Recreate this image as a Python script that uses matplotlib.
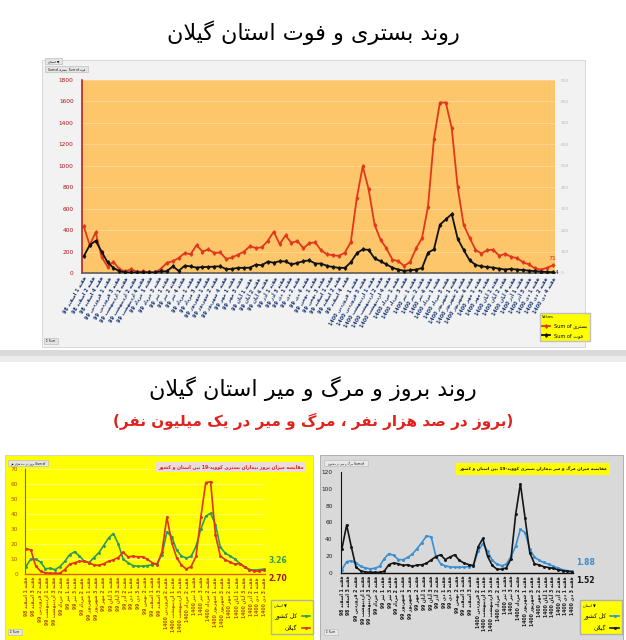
import re
import numpy as np
import matplotlib
matplotlib.use('Agg')
import matplotlib.pyplot as plt
from matplotlib.patches import Rectangle

plt.rcParams['font.family'] = ['DejaVu Sans']

W, H = 626, 640

# ---------------- data ----------------
months = [('اسفند', '98'), ('فروردین', '99'), ('اردیبهشت', '99'), ('خرداد', '99'),
          ('تیر', '99'), ('مرداد', '99'), ('شهریور', '99'), ('مهر', '99'), ('آبان', '99'),
          ('آذر', '99'), ('دی', '99'), ('بهمن', '99'), ('اسفند', '99'), ('فروردین', '1400'),
          ('اردیبهشت', '1400'), ('خرداد', '1400'), ('تیر', '1400'), ('مرداد', '1400'),
          ('شهریور', '1400'), ('مهر', '1400'), ('آبان', '1400'), ('آذر', '1400'), ('دی', '1400')]
top_labels = [f'هفته {w} {m} {y}' for k, (m, y) in enumerate(months)
              for w in ((1, 2, 4) if k % 2 == 0 else (1, 3))]
low_labels = [f'هفته {w} {m} {y}' for k, (m, y) in enumerate(months)
              for w in ((1, 3) if k % 2 == 0 else (2,))]

# weekly hospitalised (left axis) and deaths (right axis), Gilan
hosp = [434, 260, 380, 150, 60, 105, 35, 15, 37, 10,
        15, 8, 5, 40, 95, 110, 140, 186, 175, 260,
        200, 220, 186, 192, 130, 145, 171, 200, 250, 233,
        240, 300, 385, 270, 350, 280, 300, 230, 279, 285,
        210, 175, 165, 160, 190, 290, 700, 995, 780, 450,
        310, 230, 125, 110, 65, 105, 230, 326, 620, 1250,
        1590, 1590, 1350, 800, 450, 330, 217, 180, 215, 217,
        160, 180, 150, 140, 100, 80, 45, 31, 47, 71]
deaths = [78, 130, 150, 100, 50, 24, 8, 3, 3, 2.5,
          2.5, 2.5, 2.5, 8, 8, 31, 10, 34, 31, 25,
          28, 28, 30, 31, 18, 19, 24, 24, 25, 39,
          36, 53, 48, 55, 54, 40, 47, 55, 59, 44,
          44, 33, 28, 24, 24, 50, 92, 110, 108, 68,
          55, 40, 25, 16, 10, 13, 16, 23, 95, 110,
          225, 250, 275, 160, 108, 60, 38, 31, 28, 25,
          20, 16, 19, 16, 14, 11, 9, 6, 5, 4]

# incidence per 100k
inc_country = [5, 10, 9.8, 8, 3.5, 3.8, 2.9, 5, 8.4, 12.9,
               14.8, 12, 8.5, 7.6, 11, 14.2, 19, 24, 27, 20,
               10, 7.5, 5.6, 5.2, 5.3, 5.6, 6.2, 7, 13, 28,
               25, 16, 12, 10.7, 11.8, 18.4, 30, 38.5, 40.5, 33,
               18, 14, 12, 10, 7, 5, 3, 2.5, 2.9, 3.26]
inc_gilan = [17, 16, 5.5, 1.8, 0.8, 0.5, 0.5, 0.5, 3, 6.5,
             7.5, 8.5, 8.5, 7.5, 6, 5.8, 6.8, 8.5, 9.5, 11,
             14.5, 11.5, 11.8, 11.5, 11.5, 9.8, 7.5, 6.3, 15, 38,
             21, 11, 6, 3.3, 5, 11.8, 38, 61, 61.5, 26,
             12, 9.6, 8, 6.5, 7, 4.5, 2.8, 2, 2, 2.70]

# mortality per million
mort_country = [4, 13.5, 14.5, 12, 8, 6, 5, 5.5, 8, 17,
                23, 21, 16, 15.7, 18.5, 22.5, 29, 36, 44, 43,
                20, 11, 8.5, 7.3, 7, 7, 7, 7.5, 9.5, 26,
                35, 26, 15, 10.5, 8.7, 10.5, 19.7, 32, 52, 48,
                28, 19, 15, 12.5, 10.5, 8, 5.9, 3.9, 2.8, 1.88]
mort_gilan = [29, 57, 31, 7, 2.5, 1.2, 0.8, 0.8, 0.8, 2,
              10, 12, 11, 9, 9.8, 8, 9.5, 9.8, 11.5, 15.5,
              19.5, 21.6, 16, 19, 21.6, 15, 11.8, 10, 8.7, 31,
              41, 20, 9, 4.5, 4.5, 6, 17, 70, 106, 65,
              24, 11, 9.5, 7.5, 6.5, 5.5, 3.9, 2.8, 2, 1.52]

# ---------------- persian text: matplotlib has no shaping, so do it by hand ----------------
DUAL = {'ب': 0xFE8F, 'پ': 0xFB56, 'ت': 0xFE95, 'ث': 0xFE99, 'ج': 0xFE9D, 'چ': 0xFB7A,
        'ح': 0xFEA1, 'خ': 0xFEA5, 'س': 0xFEB1, 'ش': 0xFEB5, 'ص': 0xFEB9, 'ض': 0xFEBD,
        'ط': 0xFEC1, 'ظ': 0xFEC5, 'ع': 0xFEC9, 'غ': 0xFECD, 'ف': 0xFED1, 'ق': 0xFED5,
        'ک': 0xFB8E, 'گ': 0xFB92, 'ل': 0xFEDD, 'م': 0xFEE1, 'ن': 0xFEE5, 'ه': 0xFEE9,
        'ی': 0xFBFC, 'ي': 0xFEF1}
RIGHT = {'ا': 0xFE8D, 'آ': 0xFE81, 'د': 0xFEA9, 'ذ': 0xFEAB, 'ر': 0xFEAD, 'ز': 0xFEAF,
         'ژ': 0xFB8A, 'و': 0xFEED}
MIRROR = {'(': ')', ')': '('}


def shape(s):
    out = []
    i = 0
    while i < len(s):
        c = s[i]
        prev_links = i > 0 and s[i - 1] in DUAL
        nxt = s[i + 1] if i + 1 < len(s) else ''
        if c == 'ل' and nxt in ('ا', 'آ'):
            lig = 0xFEFB if nxt == 'ا' else 0xFEF5
            out.append(chr(lig + int(prev_links)))
            i += 2
            continue
        if c in DUAL:
            next_links = nxt in DUAL or nxt in RIGHT
            form = 3 if prev_links and next_links else 1 if prev_links else 2 if next_links else 0
            out.append(chr(DUAL[c] + form))
        elif c in RIGHT:
            out.append(chr(RIGHT[c] + int(prev_links)))
        else:
            out.append(c)
        i += 1
    return ''.join(out)


def fa(s):
    runs = re.findall(r'[A-Za-z0-9.]+|[^A-Za-z0-9.]+', shape(s))
    out = []
    for r in reversed(runs):
        if re.match(r'[A-Za-z0-9.]', r):
            out.append(r)
        else:
            out.append(''.join(MIRROR.get(c, c) for c in reversed(r)))
    return ''.join(out)


# ---------------- layout helpers (pixel boxes) ----------------
def rect(x0, y0, x1, y1):
    return [x0 / W, 1 - y1 / H, (x1 - x0) / W, (y1 - y0) / H]


def box(x0, y0, x1, y1, **kw):
    kw.setdefault('zorder', -1)
    fig.add_artist(Rectangle((x0 / W, 1 - y1 / H), (x1 - x0) / W, (y1 - y0) / H,
                             transform=fig.transFigure, **kw))


def txt(x, y, s, **kw):
    fig.text(x / W, 1 - y / H, s, **kw)


fig = plt.figure(figsize=(W / 100, H / 100), dpi=100)

# ================= top: hospitalised & deaths =================
txt(313, 33, fa('روند بستری و فوت استان گیلان'), ha='center', va='center', fontsize=16)
box(42, 60, 585, 347, facecolor='#f2f2f2', edgecolor='#d4d4d4', lw=0.6)
box(45, 58, 62, 64, facecolor='#e4e4e4', edgecolor='#b5b5b5', lw=0.4)
txt(53.5, 61, fa('استان') + ' ▼', ha='center', va='center', fontsize=2.3)
box(45, 66, 88, 72, facecolor='#e4e4e4', edgecolor='#b5b5b5', lw=0.4)
txt(66.5, 69, 'Sum of ' + fa('بستری') + '  Sum of ' + fa('فوت'), ha='center', va='center', fontsize=2.1)
box(44, 338, 58, 344, facecolor='#e4e4e4', edgecolor='#b5b5b5', lw=0.4)
txt(51, 341, 'Σ Sum', ha='center', va='center', fontsize=2.1)

ax = fig.add_axes(rect(82, 80, 555, 273))
ax.set_facecolor('#fec66b')
xt = np.arange(len(hosp))
l1, = ax.plot(xt, hosp, color='#e2371b', lw=1.3, marker='d', ms=1.8)
ax.set_ylim(0, 1800)
ax.set_yticks(range(0, 1801, 200))
ax.set_xlim(-0.3, len(hosp) - 0.6)
ax.grid(axis='y', color='#ffd795', lw=0.6)
ax.set_axisbelow(True)
ax.tick_params(axis='y', labelsize=4.2, labelcolor='#b0121b', length=0, pad=6)
ax.tick_params(axis='x', length=0, pad=2)
ax.set_xticks(np.linspace(0, len(hosp) - 1, len(top_labels)))
ax.set_xticklabels([fa(s) for s in top_labels], rotation=60, ha='right', rotation_mode='anchor',
                   fontsize=3.5, color='#1f3b78', fontweight='bold')
for s in ('top', 'right'):
    ax.spines[s].set_visible(False)
ax.spines['left'].set_color('#b0121b')
ax.spines['left'].set_linewidth(1.1)
ax.spines['bottom'].set_color('#5a5a5a')
ax.spines['bottom'].set_linewidth(1.2)
ax.text(xt[-1], hosp[-1] + 40, str(hosp[-1]), color='#d0301b', fontsize=4.5, ha='center', va='bottom')

ax2 = ax.twinx()
l2, = ax2.plot(xt, deaths, color='#111111', lw=1.3, marker='d', ms=1.8)
ax2.set_ylim(0, 900)
ax2.set_yticks(range(0, 901, 100))
ax2.tick_params(axis='y', labelsize=3.2, labelcolor='#b8b8b8', length=0, pad=4)
for s in ax2.spines.values():
    s.set_visible(False)
ax2.text(xt[-1] + 0.4, deaths[-1], str(deaths[-1]), color='#222222', fontsize=4.2, ha='left', va='center')

leg = fig.legend([l1, l2], ['Sum of ' + fa('بستری'), 'Sum of ' + fa('فوت')], loc='upper left',
                 bbox_to_anchor=(537 / W, 1 - 310 / H), fontsize=3.6, facecolor='#ffff00',
                 edgecolor='#c0c0c0', framealpha=1, fancybox=False, title='Values', title_fontsize=2.6,
                 handlelength=1.6, borderpad=0.5, labelspacing=0.9)
leg._legend_box.align = 'left'

# separator band
box(0, 350, 626, 356, facecolor='#d9d9d9', edgecolor='none')
box(0, 356, 626, 362, facecolor='#ececec', edgecolor='none')

# ================= bottom titles =================
txt(313, 389, fa('روند بروز و مرگ و میر استان گیلان'), ha='center', va='center', fontsize=16)
txt(313, 421, fa('(بروز در صد هزار نفر ، مرگ و میر در یک میلیون نفر)'), ha='center', va='center',
    fontsize=11, color='#e3201b', fontweight='bold')

# ================= bottom left: incidence =================
box(5, 455, 313, 640, facecolor='#ffff00', edgecolor='#cfcfcf', lw=0.6)
box(8, 460, 48, 466, facecolor='#e4e4e4', edgecolor='#b5b5b5', lw=0.4)
txt(28, 463, fa('بروز در صد هزار نفر') + ' Sum of', ha='center', va='center', fontsize=2.1)
box(8, 629, 22, 635, facecolor='#e4e4e4', edgecolor='#b5b5b5', lw=0.4)
txt(15, 632, 'Σ Sum', ha='center', va='center', fontsize=2.1)

axl = fig.add_axes(rect(25, 469, 265, 574))
axl.set_facecolor('none')
xb = np.arange(len(inc_gilan))
g1, = axl.plot(xb, inc_country, color='#2f9a5e', lw=1.2, marker='o', ms=1.1)
g2, = axl.plot(xb, inc_gilan, color='#e0321c', lw=1.2, marker='o', ms=1.1)
axl.set_ylim(0, 70)
axl.set_yticks(range(0, 71, 10))
axl.set_xlim(-0.2, len(xb) - 0.8)
axl.grid(axis='y', color='#ffff9a', lw=0.5)
axl.set_axisbelow(True)
axl.tick_params(axis='y', labelsize=4.2, labelcolor='#b5520c', length=0, pad=5)
axl.tick_params(axis='x', length=0, pad=2)
axl.set_xticks(np.linspace(0, len(xb) - 1, len(low_labels)))
axl.set_xticklabels([fa(s) for s in low_labels], rotation=90, ha='center', va='top',
                    fontsize=3.3, color='#b5520c', fontweight='bold')
for s in ('top', 'right'):
    axl.spines[s].set_visible(False)
axl.spines['left'].set_color('#b05a00')
axl.spines['bottom'].set_color('#e06010')
axl.spines['bottom'].set_linewidth(1.0)
axl.annotate(f'{inc_country[-1]:.2f}', (xb[-1], inc_country[-1]), xytext=(3, 3), textcoords='offset points',
             color='#2f9a5e', fontsize=5.5, fontweight='bold', va='bottom')
axl.annotate(f'{inc_gilan[-1]:.2f}', (xb[-1], inc_gilan[-1]), xytext=(3, -3), textcoords='offset points',
             color='#a0141e', fontsize=5.5, fontweight='bold', va='top')
txt(231, 467, fa('مقایسه میزان بروز بیماران بستری کووید-19 بین استان و کشور'), ha='center', va='center',
    fontsize=3.3, color='#e0201b', fontweight='bold',
    bbox=dict(boxstyle='square,pad=0.5', facecolor='#eadcdc', edgecolor='none'))
legl = fig.legend([g1, g2], [fa('کل کشور'), fa('گیلان')], loc='upper left',
                  bbox_to_anchor=(268 / W, 1 - 597 / H), fontsize=4.2, facecolor='#ffff00',
                  edgecolor='#b0b0b0', framealpha=1, fancybox=False, title=fa('استان') + ' ▼',
                  title_fontsize=2.6, handlelength=1.4, borderpad=0.5, labelspacing=1.0,
                  markerfirst=False)
legl._legend_box.align = 'left'

# ================= bottom right: mortality =================
box(320, 455, 623, 640, facecolor='#d9d9d9', edgecolor='#a6a6a6', lw=0.6)
box(324, 460, 368, 466, facecolor='#e8e8e8', edgecolor='#b5b5b5', lw=0.4)
txt(346, 463, fa('مرگ و میر در میلیون') + ' Sum of', ha='center', va='center', fontsize=2.1)
box(324, 629, 338, 635, facecolor='#e8e8e8', edgecolor='#b5b5b5', lw=0.4)
txt(331, 632, 'Σ Sum', ha='center', va='center', fontsize=2.1)

axr = fig.add_axes(rect(341, 472, 573, 573))
axr.set_facecolor('none')
xr = np.arange(len(mort_gilan))
b1, = axr.plot(xr, mort_country, color='#3a8fd2', lw=1.2, marker='o', ms=1.1)
b2, = axr.plot(xr, mort_gilan, color='#151515', lw=1.2, marker='o', ms=1.1)
axr.set_ylim(0, 120)
axr.set_yticks(range(0, 121, 20))
axr.set_xlim(-0.2, len(xr) - 0.8)
axr.tick_params(axis='y', labelsize=4.2, labelcolor='#222222', length=0, pad=6)
axr.tick_params(axis='x', length=0, pad=2)
axr.set_xticks(np.linspace(0, len(xr) - 1, len(low_labels)))
axr.set_xticklabels([fa(s) for s in low_labels], rotation=90, ha='center', va='top',
                    fontsize=3.3, color='#1a1a1a', fontweight='bold')
for s in ('top', 'right'):
    axr.spines[s].set_visible(False)
axr.spines['left'].set_color('#111111')
axr.spines['bottom'].set_color('#111111')
axr.spines['bottom'].set_linewidth(1.0)
axr.annotate(f'{mort_country[-1]:.2f}', (xr[-1], mort_country[-1]), xytext=(3, 3), textcoords='offset points',
             color='#3a8fd2', fontsize=5.5, fontweight='bold', va='bottom')
axr.annotate(f'{mort_gilan[-1]:.2f}', (xr[-1], mort_gilan[-1]), xytext=(3, -3), textcoords='offset points',
             color='#151515', fontsize=5.5, fontweight='bold', va='top')
txt(533, 469, fa('مقایسه میزان مرگ و میر بیماران بستری کووید-19 بین استان و کشور'), ha='center',
    va='center', fontsize=3.1, color='#111111', fontweight='bold',
    bbox=dict(boxstyle='square,pad=0.8', facecolor='#ffff00', edgecolor='none'))
legr = fig.legend([b1, b2], [fa('کل کشور'), fa('گیلان')], loc='upper left',
                  bbox_to_anchor=(577 / W, 1 - 597 / H), fontsize=4.2, facecolor='#ffff00',
                  edgecolor='#b0b0b0', framealpha=1, fancybox=False, title=fa('استان') + ' ▼',
                  title_fontsize=2.6, handlelength=1.4, borderpad=0.5, labelspacing=1.0,
                  markerfirst=False)
legr._legend_box.align = 'left'

fig.savefig('out.png', dpi=100, facecolor='white')
